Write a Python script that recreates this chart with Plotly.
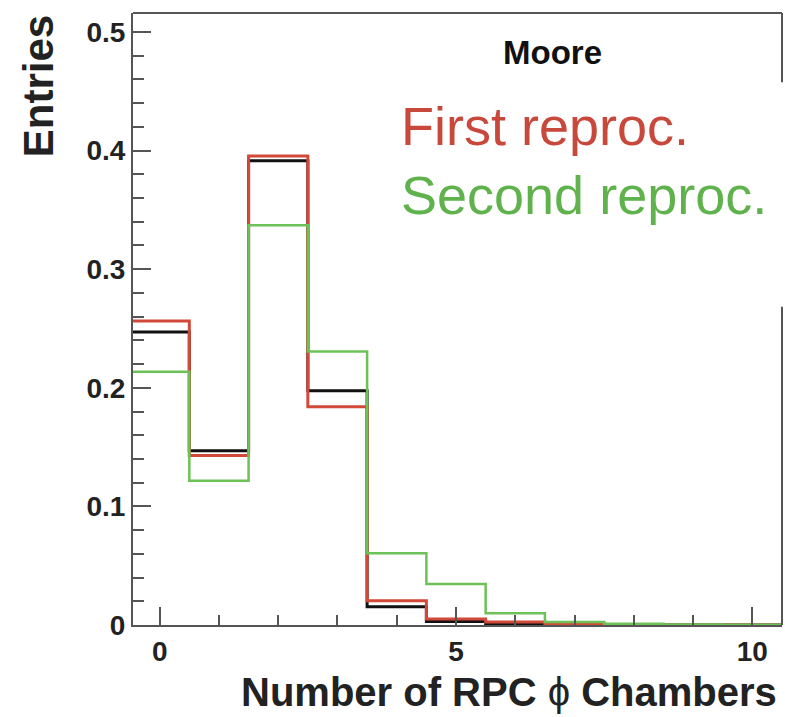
import plotly.graph_objects as go

# Bin centres (number of RPC phi chambers)
bins = [0, 1, 2, 3, 4, 5, 6, 7, 8, 9, 10]
# Normalised entries per bin
moore_black = [0.247, 0.147, 0.3915, 0.1976, 0.0154, 0.003, 0.001, 0.0005, 0.0, 0.0, 0.0]
first_reproc = [0.2563, 0.143, 0.3955, 0.184, 0.0205, 0.005, 0.0025, 0.001, 0.0, 0.0, 0.0]
second_reproc = [0.2136, 0.1217, 0.337, 0.2305, 0.0605, 0.0346, 0.010, 0.0025, 0.001, 0.0005, 0.0003]

x_ticks = [0, 5, 10]
y_ticks = [0, 0.1, 0.2, 0.3, 0.4, 0.5]

BLACK = "#111111"
RED = "#d2493a"
GREEN = "#6cc257"
AXIS = "#555555"
FONT = "Liberation Sans"


def step(vals):
    xs = [b - 0.5 for b in bins] + [bins[-1] + 0.5]
    ys = list(vals) + [vals[-1]]
    return xs, ys


fig = go.Figure()
for vals, col, w in [(moore_black, BLACK, 3), (first_reproc, RED, 3), (second_reproc, GREEN, 2.5)]:
    xs, ys = step(vals)
    fig.add_trace(go.Scatter(x=xs, y=ys, mode="lines", line=dict(color=col, width=w, shape="hv"),
                             showlegend=False, hoverinfo="skip"))

tickfont = dict(family=FONT, size=28, color="#222222", weight="bold")

fig.update_layout(
    width=785, height=717,
    margin=dict(l=133, r=3, t=13, b=92),
    paper_bgcolor="white", plot_bgcolor="white",
    showlegend=False,
    xaxis=dict(range=[-0.45, 10.5], tickvals=x_ticks, ticktext=[str(v) for v in x_ticks],
               ticks="inside", ticklen=18, tickwidth=2, tickcolor=AXIS,
               minor=dict(dtick=1, tick0=0, ticks="inside", ticklen=10, tickwidth=2, tickcolor=AXIS),
               showline=True, linecolor=AXIS, linewidth=2, showgrid=False, zeroline=False,
               tickfont=tickfont),
    yaxis=dict(range=[0, 0.516], tickvals=y_ticks, ticktext=["0", "0.1", "0.2", "0.3", "0.4", "0.5"],
               ticks="inside", ticklen=18, tickwidth=2, tickcolor=AXIS,
               minor=dict(dtick=0.02, tick0=0, ticks="inside", ticklen=11, tickwidth=2, tickcolor=AXIS),
               showline=True, linecolor=AXIS, linewidth=2, showgrid=False, zeroline=False,
               tickfont=tickfont),
)

# frame: top line and right line (right line interrupted by legend box)
fig.add_shape(type="line", xref="paper", yref="paper", x0=0, x1=1, y0=1, y1=1,
              line=dict(color=AXIS, width=2))
fig.add_shape(type="line", xref="paper", yref="paper", x0=1, x1=1, y0=0.887, y1=1,
              line=dict(color=AXIS, width=2))
fig.add_shape(type="line", xref="paper", yref="paper", x0=1, x1=1, y0=0, y1=0.52,
              line=dict(color=AXIS, width=2))

# axis titles
fig.add_annotation(text="Entries", xref="paper", yref="paper", x=-0.146, y=1.0,
                   xanchor="center", yanchor="top", textangle=-90, showarrow=False,
                   font=dict(family=FONT, size=42, color="#222222", weight="bold"))
fig.add_annotation(text="<b>Number of RPC</b> ϕ <b>Chambers</b>", xref="paper", yref="paper",
                   x=0.995, y=-0.1095, xanchor="right", yanchor="middle", showarrow=False,
                   font=dict(family=FONT, size=40, color="#222222"))

# labels inside the plot
fig.add_annotation(text="Moore", xref="paper", yref="paper", x=0.647, y=0.936,
                   xanchor="center", yanchor="middle", showarrow=False,
                   font=dict(family=FONT, size=33, color="#111111", weight="bold"))
fig.add_annotation(text="First reproc.", xref="paper", yref="paper", x=0.41, y=0.815,
                   xanchor="left", yanchor="middle", showarrow=False,
                   font=dict(family=FONT, size=54, color="#c8493b"))
fig.add_annotation(text="Second reproc.", xref="paper", yref="paper", x=0.41, y=0.703,
                   xanchor="left", yanchor="middle", showarrow=False,
                   font=dict(family=FONT, size=54, color="#5fb24c"))

fig.write_html("out.html")
